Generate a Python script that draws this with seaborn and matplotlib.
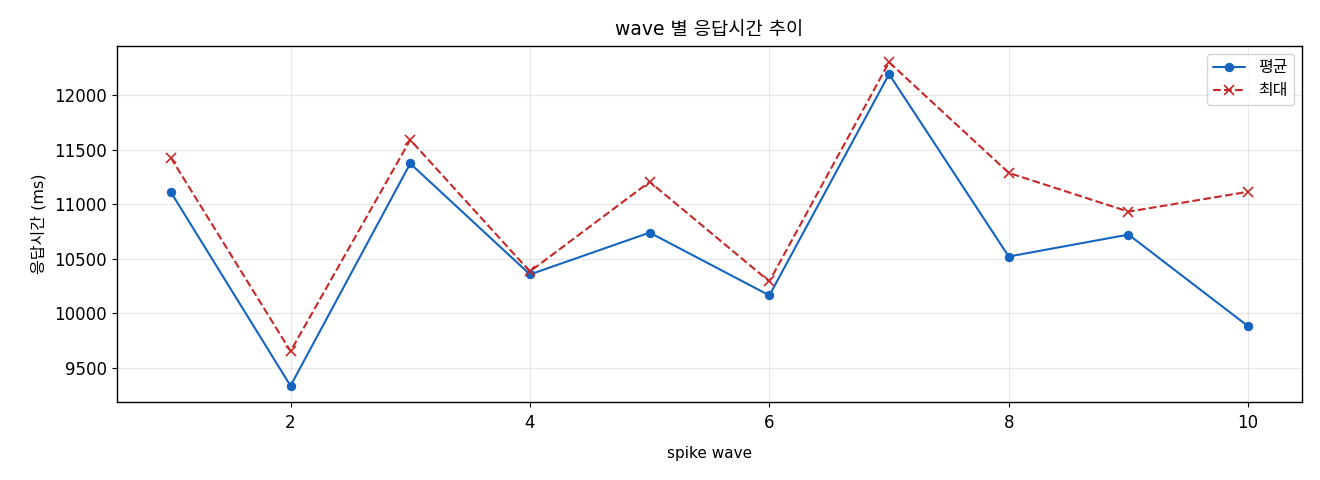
import matplotlib
matplotlib.use("Agg")
import matplotlib.pyplot as plt
import seaborn as sns
import pandas as pd

waves = [1, 2, 3, 4, 5, 6, 7, 8, 9, 10]
mean_ms = [11110, 9336, 11372, 10356, 10739, 10164, 12190, 10520, 10721, 9881]
max_ms = [11425, 9653, 11588, 10383, 11204, 10292, 12299, 11286, 10931, 11113]

sns.set_style("white")
plt.rcParams['font.family'] = ['DejaVu Sans', 'Noto Sans CJK KR']
plt.rcParams['axes.unicode_minus'] = False
plt.rcParams['text.color'] = 'black'
plt.rcParams['axes.labelcolor'] = 'black'
plt.rcParams['xtick.color'] = 'black'
plt.rcParams['ytick.color'] = 'black'

df = pd.DataFrame({"wave": waves, "mean": mean_ms, "max": max_ms})

fig, ax = plt.subplots(figsize=(13.2, 4.8), dpi=100)
sns.lineplot(data=df, x="wave", y="mean", marker="o", color="#1565C0",
             markeredgecolor="#1565C0", label="평균", ax=ax, markersize=6,
             linewidth=1.5, legend=False)
sns.lineplot(data=df, x="wave", y="max", marker="x", color="#C62828",
             markeredgecolor="#C62828", label="최대", ax=ax, markersize=6.5,
             markeredgewidth=1.2, linewidth=1.5, legend=False)
ax.get_lines()[1].set_linestyle("--")
ax.set_title("wave 별 응답시간 추이", fontsize=13.5, color="black", pad=8)
ax.set_xlabel("spike wave", fontsize=11, labelpad=10)
ax.set_ylabel("응답시간 (ms)", fontsize=11.5, labelpad=6)
ax.grid(True, alpha=0.3, color="#b0b0b0", linewidth=0.8)
for s in ax.spines.values():
    s.set_color("black")
    s.set_linewidth(1.0)
ax.tick_params(axis="both", which="both", direction="out", length=3.5, width=0.8,
               left=True, bottom=True, labelsize=12, colors="black")
ax.tick_params(axis="x", pad=5)
ax.legend(loc="upper right", fontsize=11.5)
fig.subplots_adjust(left=0.0886, right=0.9864, top=0.904, bottom=0.1625)
fig.savefig("out.png", dpi=100)
